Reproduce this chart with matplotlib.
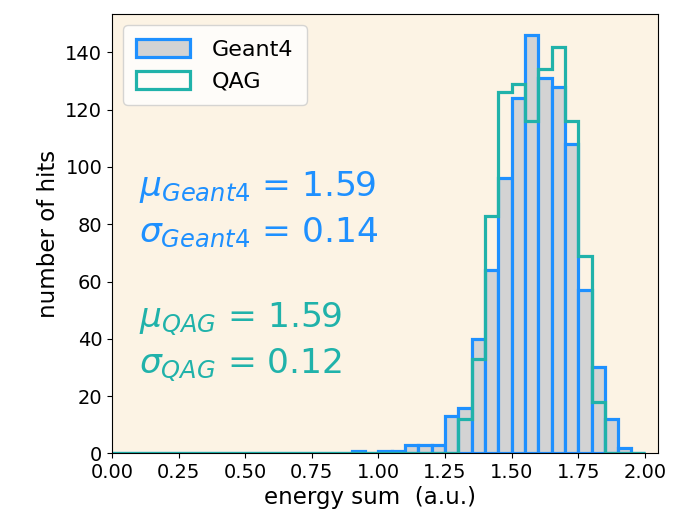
import numpy as np
import matplotlib
matplotlib.use('Agg')
import matplotlib.pyplot as plt

# histogram binning: 40 bins of 0.05 from 0 to 2
edges = np.linspace(0, 2, 41)
centers = 0.5 * (edges[:-1] + edges[1:])

# counts per bin, starting at 0.90
geant4_tail = [1, 0, 1, 1, 3, 3, 3, 13, 16, 40, 64, 96, 124, 146, 131, 128, 108, 57, 30, 12, 2, 0]
qag_tail = [0, 0, 0, 0, 0, 0, 0, 0, 12, 33, 83, 126, 129, 116, 134, 142, 116, 69, 18, 0, 0, 0]
geant4 = np.array([0] * 18 + geant4_tail)
qag = np.array([0] * 18 + qag_tail)

mu_geant4, sigma_geant4 = 1.59, 0.14
mu_qag, sigma_qag = 1.59, 0.12

blue = '#1e90ff'
teal = '#20b2aa'

fig = plt.figure(figsize=(6.75, 5.26), dpi=100)
ax = fig.add_axes([0.166, 0.138, 0.809, 0.835])
ax.set_facecolor('#fcf3e4')

ax.hist(centers, bins=edges, weights=geant4, histtype='bar',
        facecolor='lightgrey', edgecolor=blue, linewidth=2.3, label='Geant4')
ax.hist(centers, bins=edges, weights=qag, histtype='step',
        color=teal, linewidth=2.3, label='QAG')

ax.set_xlim(0, 2.05)
ax.set_xticks(np.arange(0, 2.01, 0.25))
ax.tick_params(labelsize=14)
ax.set_xlabel('energy sum  (a.u.)', fontsize=16.5)
ax.set_ylabel('number of hits', fontsize=16.5)
ax.xaxis.set_label_coords(0.473, -0.075)

ax.legend(loc='upper left', fontsize=16, handlelength=2.4, handleheight=0.9,
          handletextpad=1.0, borderpad=0.6)

fs = 24.8
ax.text(0.05, 0.607, r'$\mu_{Geant4}$ = %.2f' % mu_geant4, transform=ax.transAxes,
        fontsize=fs, color=blue, va='center')
ax.text(0.05, 0.502, r'$\sigma_{Geant4}$ = %.2f' % sigma_geant4, transform=ax.transAxes,
        fontsize=fs, color=blue, va='center')
ax.text(0.05, 0.307, r'$\mu_{QAG}$ = %.2f' % mu_qag, transform=ax.transAxes,
        fontsize=fs, color=teal, va='center')
ax.text(0.05, 0.202, r'$\sigma_{QAG}$ = %.2f' % sigma_qag, transform=ax.transAxes,
        fontsize=fs, color=teal, va='center')

fig.savefig('out.png', dpi=100)
